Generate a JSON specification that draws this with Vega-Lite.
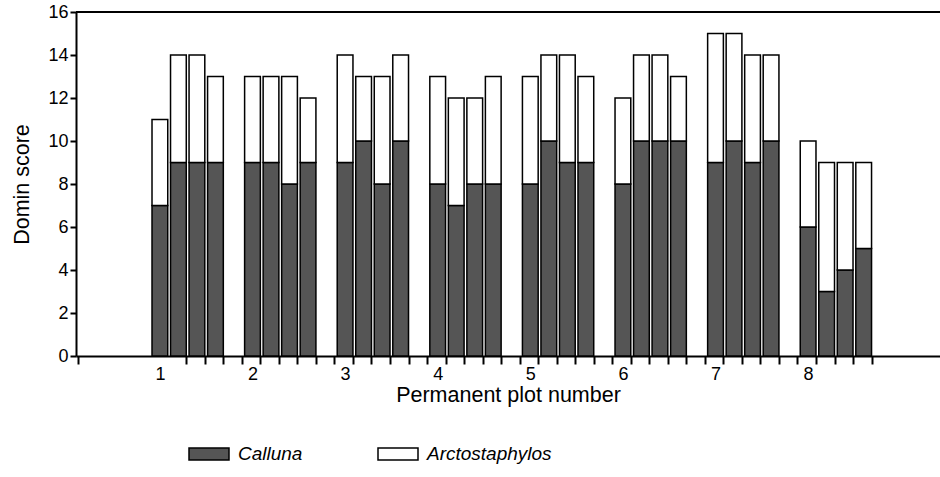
{
  "$schema": "https://vega.github.io/schema/vega-lite/v6.json",
  "width": 864,
  "height": 344,
  "autosize": "none",
  "padding": {"left": 76, "top": 12, "right": 0, "bottom": 121},
  "background": "white",
  "config": {
    "view": {"stroke": null},
    "font": "Liberation Sans",
    "axis": {
      "domainColor": "black",
      "domainWidth": 2,
      "tickColor": "black",
      "tickWidth": 2,
      "labelColor": "black",
      "titleColor": "black",
      "titleFontWeight": "normal",
      "labelFont": "Liberation Sans",
      "titleFont": "Liberation Sans",
      "grid": false
    }
  },
  "data": {
    "values": [
      {"plot": 1, "bar": "1a", "species": "Calluna", "score": 7},
      {"plot": 1, "bar": "1b", "species": "Calluna", "score": 9},
      {"plot": 1, "bar": "1c", "species": "Calluna", "score": 9},
      {"plot": 1, "bar": "1d", "species": "Calluna", "score": 9},
      {"plot": 1, "bar": "1a", "species": "Arctostaphylos", "score": 4},
      {"plot": 1, "bar": "1b", "species": "Arctostaphylos", "score": 5},
      {"plot": 1, "bar": "1c", "species": "Arctostaphylos", "score": 5},
      {"plot": 1, "bar": "1d", "species": "Arctostaphylos", "score": 4},
      {"plot": 2, "bar": "2a", "species": "Calluna", "score": 9},
      {"plot": 2, "bar": "2b", "species": "Calluna", "score": 9},
      {"plot": 2, "bar": "2c", "species": "Calluna", "score": 8},
      {"plot": 2, "bar": "2d", "species": "Calluna", "score": 9},
      {"plot": 2, "bar": "2a", "species": "Arctostaphylos", "score": 4},
      {"plot": 2, "bar": "2b", "species": "Arctostaphylos", "score": 4},
      {"plot": 2, "bar": "2c", "species": "Arctostaphylos", "score": 5},
      {"plot": 2, "bar": "2d", "species": "Arctostaphylos", "score": 3},
      {"plot": 3, "bar": "3a", "species": "Calluna", "score": 9},
      {"plot": 3, "bar": "3b", "species": "Calluna", "score": 10},
      {"plot": 3, "bar": "3c", "species": "Calluna", "score": 8},
      {"plot": 3, "bar": "3d", "species": "Calluna", "score": 10},
      {"plot": 3, "bar": "3a", "species": "Arctostaphylos", "score": 5},
      {"plot": 3, "bar": "3b", "species": "Arctostaphylos", "score": 3},
      {"plot": 3, "bar": "3c", "species": "Arctostaphylos", "score": 5},
      {"plot": 3, "bar": "3d", "species": "Arctostaphylos", "score": 4},
      {"plot": 4, "bar": "4a", "species": "Calluna", "score": 8},
      {"plot": 4, "bar": "4b", "species": "Calluna", "score": 7},
      {"plot": 4, "bar": "4c", "species": "Calluna", "score": 8},
      {"plot": 4, "bar": "4d", "species": "Calluna", "score": 8},
      {"plot": 4, "bar": "4a", "species": "Arctostaphylos", "score": 5},
      {"plot": 4, "bar": "4b", "species": "Arctostaphylos", "score": 5},
      {"plot": 4, "bar": "4c", "species": "Arctostaphylos", "score": 4},
      {"plot": 4, "bar": "4d", "species": "Arctostaphylos", "score": 5},
      {"plot": 5, "bar": "5a", "species": "Calluna", "score": 8},
      {"plot": 5, "bar": "5b", "species": "Calluna", "score": 10},
      {"plot": 5, "bar": "5c", "species": "Calluna", "score": 9},
      {"plot": 5, "bar": "5d", "species": "Calluna", "score": 9},
      {"plot": 5, "bar": "5a", "species": "Arctostaphylos", "score": 5},
      {"plot": 5, "bar": "5b", "species": "Arctostaphylos", "score": 4},
      {"plot": 5, "bar": "5c", "species": "Arctostaphylos", "score": 5},
      {"plot": 5, "bar": "5d", "species": "Arctostaphylos", "score": 4},
      {"plot": 6, "bar": "6a", "species": "Calluna", "score": 8},
      {"plot": 6, "bar": "6b", "species": "Calluna", "score": 10},
      {"plot": 6, "bar": "6c", "species": "Calluna", "score": 10},
      {"plot": 6, "bar": "6d", "species": "Calluna", "score": 10},
      {"plot": 6, "bar": "6a", "species": "Arctostaphylos", "score": 4},
      {"plot": 6, "bar": "6b", "species": "Arctostaphylos", "score": 4},
      {"plot": 6, "bar": "6c", "species": "Arctostaphylos", "score": 4},
      {"plot": 6, "bar": "6d", "species": "Arctostaphylos", "score": 3},
      {"plot": 7, "bar": "7a", "species": "Calluna", "score": 9},
      {"plot": 7, "bar": "7b", "species": "Calluna", "score": 10},
      {"plot": 7, "bar": "7c", "species": "Calluna", "score": 9},
      {"plot": 7, "bar": "7d", "species": "Calluna", "score": 10},
      {"plot": 7, "bar": "7a", "species": "Arctostaphylos", "score": 6},
      {"plot": 7, "bar": "7b", "species": "Arctostaphylos", "score": 5},
      {"plot": 7, "bar": "7c", "species": "Arctostaphylos", "score": 5},
      {"plot": 7, "bar": "7d", "species": "Arctostaphylos", "score": 4},
      {"plot": 8, "bar": "8a", "species": "Calluna", "score": 6},
      {"plot": 8, "bar": "8b", "species": "Calluna", "score": 3},
      {"plot": 8, "bar": "8c", "species": "Calluna", "score": 4},
      {"plot": 8, "bar": "8d", "species": "Calluna", "score": 5},
      {"plot": 8, "bar": "8a", "species": "Arctostaphylos", "score": 4},
      {"plot": 8, "bar": "8b", "species": "Arctostaphylos", "score": 6},
      {"plot": 8, "bar": "8c", "species": "Arctostaphylos", "score": 5},
      {"plot": 8, "bar": "8d", "species": "Arctostaphylos", "score": 4}
    ]
  },
  "layer": [
    {
      "mark": {"type": "bar", "stroke": "black", "strokeWidth": 1.5},
      "encoding": {
        "x": {
          "field": "bar",
          "type": "ordinal",
          "scale": {
            "domain": ["0w","0x","0y","0z","1a","1b","1c","1d","1e","2a","2b","2c","2d","2e","3a","3b","3c","3d","3e","4a","4b","4c","4d","4e","5a","5b","5c","5d","5e","6a","6b","6c","6d","6e","7a","7b","7c","7d","7e","8a","8b","8c","8d","8e","9a","9b"],
            "paddingInner": 0.15,
            "paddingOuter": 0.4,
            "align": 0.13
          },
          "axis": {
            "ticks": true,
            "tickBand": "extent",
            "tickWidth": 2,
            "tickSize": 8,
            "tickColor": {
              "condition": {"test": "datum.value < '1b' || datum.value > '8d'", "value": "rgba(255,255,255,0)"},
              "value": "black"
            },
            "tickOpacity": {
              "condition": {"test": "datum.value < '1b' || datum.value > '8d'", "value": 0},
              "value": 1
            },
            "labelExpr": "substring(datum.value, 1, 2) == 'a' && datum.value != '9a' ? substring(datum.value, 0, 1) : ''",
            "labelAngle": 0,
            "labelOverlap": false,
            "labelFontSize": 18,
            "labelPadding": 1,
            "title": "Permanent plot number",
            "titleFontSize": 21.5,
            "titlePadding": 1
          }
        },
        "y": {
          "field": "score",
          "type": "quantitative",
          "stack": "zero",
          "scale": {"domain": [0, 16], "nice": false},
          "axis": {
            "values": [0, 2, 4, 6, 8, 10, 12, 14, 16],
            "labelFontSize": 18,
            "labelPadding": 2,
            "tickSize": 6,
            "title": "Domin score",
            "titleFontSize": 21.5,
            "titlePadding": 14
          }
        },
        "color": {
          "field": "species",
          "type": "nominal",
          "scale": {"domain": ["Calluna", "Arctostaphylos"], "range": ["#555555", "#ffffff"]},
          "legend": {
            "orient": "none",
            "legendX": 112,
            "legendY": 421,
            "direction": "horizontal",
            "title": null,
            "symbolType": "M-1,-0.3H1V0.3H-1Z",
            "symbolSize": 1600,
            "symbolStrokeColor": "black",
            "symbolStrokeWidth": 1.5,
            "symbolOpacity": 1,
            "labelFontSize": 19,
            "labelFontStyle": "italic",
            "labelFont": "Liberation Sans",
            "labelColor": "black",
            "labelOffset": 8,
            "columnPadding": 72
          }
        },
        "order": {"field": "species", "sort": "descending"}
      }
    },
    {
      "mark": {"type": "rule", "stroke": "black", "strokeWidth": 2},
      "encoding": {"y": {"datum": 16}}
    }
  ]
}
